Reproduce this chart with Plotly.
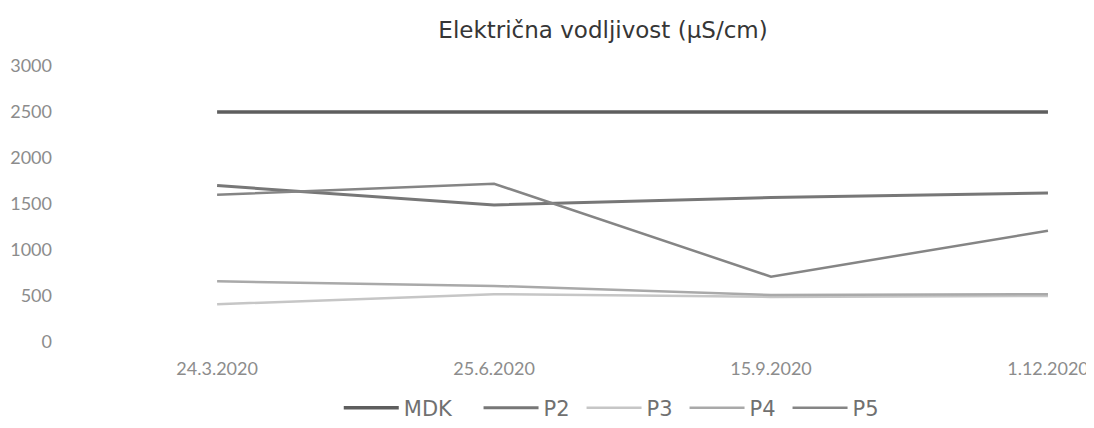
import plotly.graph_objects as go

categories = ["24.3.2020", "25.6.2020", "15.9.2020", "1.12.2020"]
mdk = [2500, 2500, 2500, 2500]
p2 = [1700, 1490, 1570, 1620]
p3 = [410, 520, 490, 500]
p4 = [660, 610, 510, 520]
p5 = [1600, 1720, 710, 1210]
y_ticks = [0, 500, 1000, 1500, 2000, 2500, 3000]

series = [
    ("MDK", mdk, "#5e5e5e", 3.5, "legend"),
    ("P2", p2, "#777777", 3, "legend2"),
    ("P3", p3, "#c6c6c6", 2.5, "legend2"),
    ("P4", p4, "#a9a9a9", 2.5, "legend2"),
    ("P5", p5, "#858585", 2.5, "legend2"),
]

W, H = 1086, 420  # page body has an 8px margin

fig = go.Figure()
for name, vals, color, w, leg in series:
    fig.add_trace(go.Scatter(x=categories, y=vals, name=name, mode="lines",
                             line=dict(color=color, width=w), legend=leg))

leg_font = dict(family="DejaVu Sans", size=21, color="#707070")
leg_y = -(400-334)/276

fig.update_layout(
    width=W, height=H,
    paper_bgcolor="white", plot_bgcolor="white",
    margin=dict(l=54, r=20, t=58, b=86, autoexpand=False),
    title=dict(text="Električna vodljivost (µS/cm)", x=595/W, xanchor="center",
               y=1-22/H, yanchor="middle",
               font=dict(family="DejaVu Sans", size=23, color="#363636")),
    font=dict(family="Lato", color="#808080"),
    showlegend=True,
    legend=dict(orientation="h", x=(344-8-5-34)/W, xanchor="left", y=leg_y,
                yanchor="middle", font=leg_font,
                itemwidth=55, tracegroupgap=0),
    legend2=dict(orientation="h", x=(477-8-5-17)/W, xanchor="left", y=leg_y,
                 yanchor="middle", font=leg_font,
                 itemwidth=55, tracegroupgap=0, entrywidth=33, entrywidthmode="pixels"),
    xaxis=dict(type="category", range=[-0.56, 3.094], showgrid=False, zeroline=False,
               showline=False, ticks="", tickfont=dict(size=18, color="#8c8c8c"),
               ticklabelstandoff=14),
    yaxis=dict(range=[0, 3000], tickvals=y_ticks, showgrid=False, zeroline=False,
               showline=False, ticks="", tickfont=dict(size=18, color="#8c8c8c"),
               ticklabelstandoff=9),
)

fig.write_html("out.html")
